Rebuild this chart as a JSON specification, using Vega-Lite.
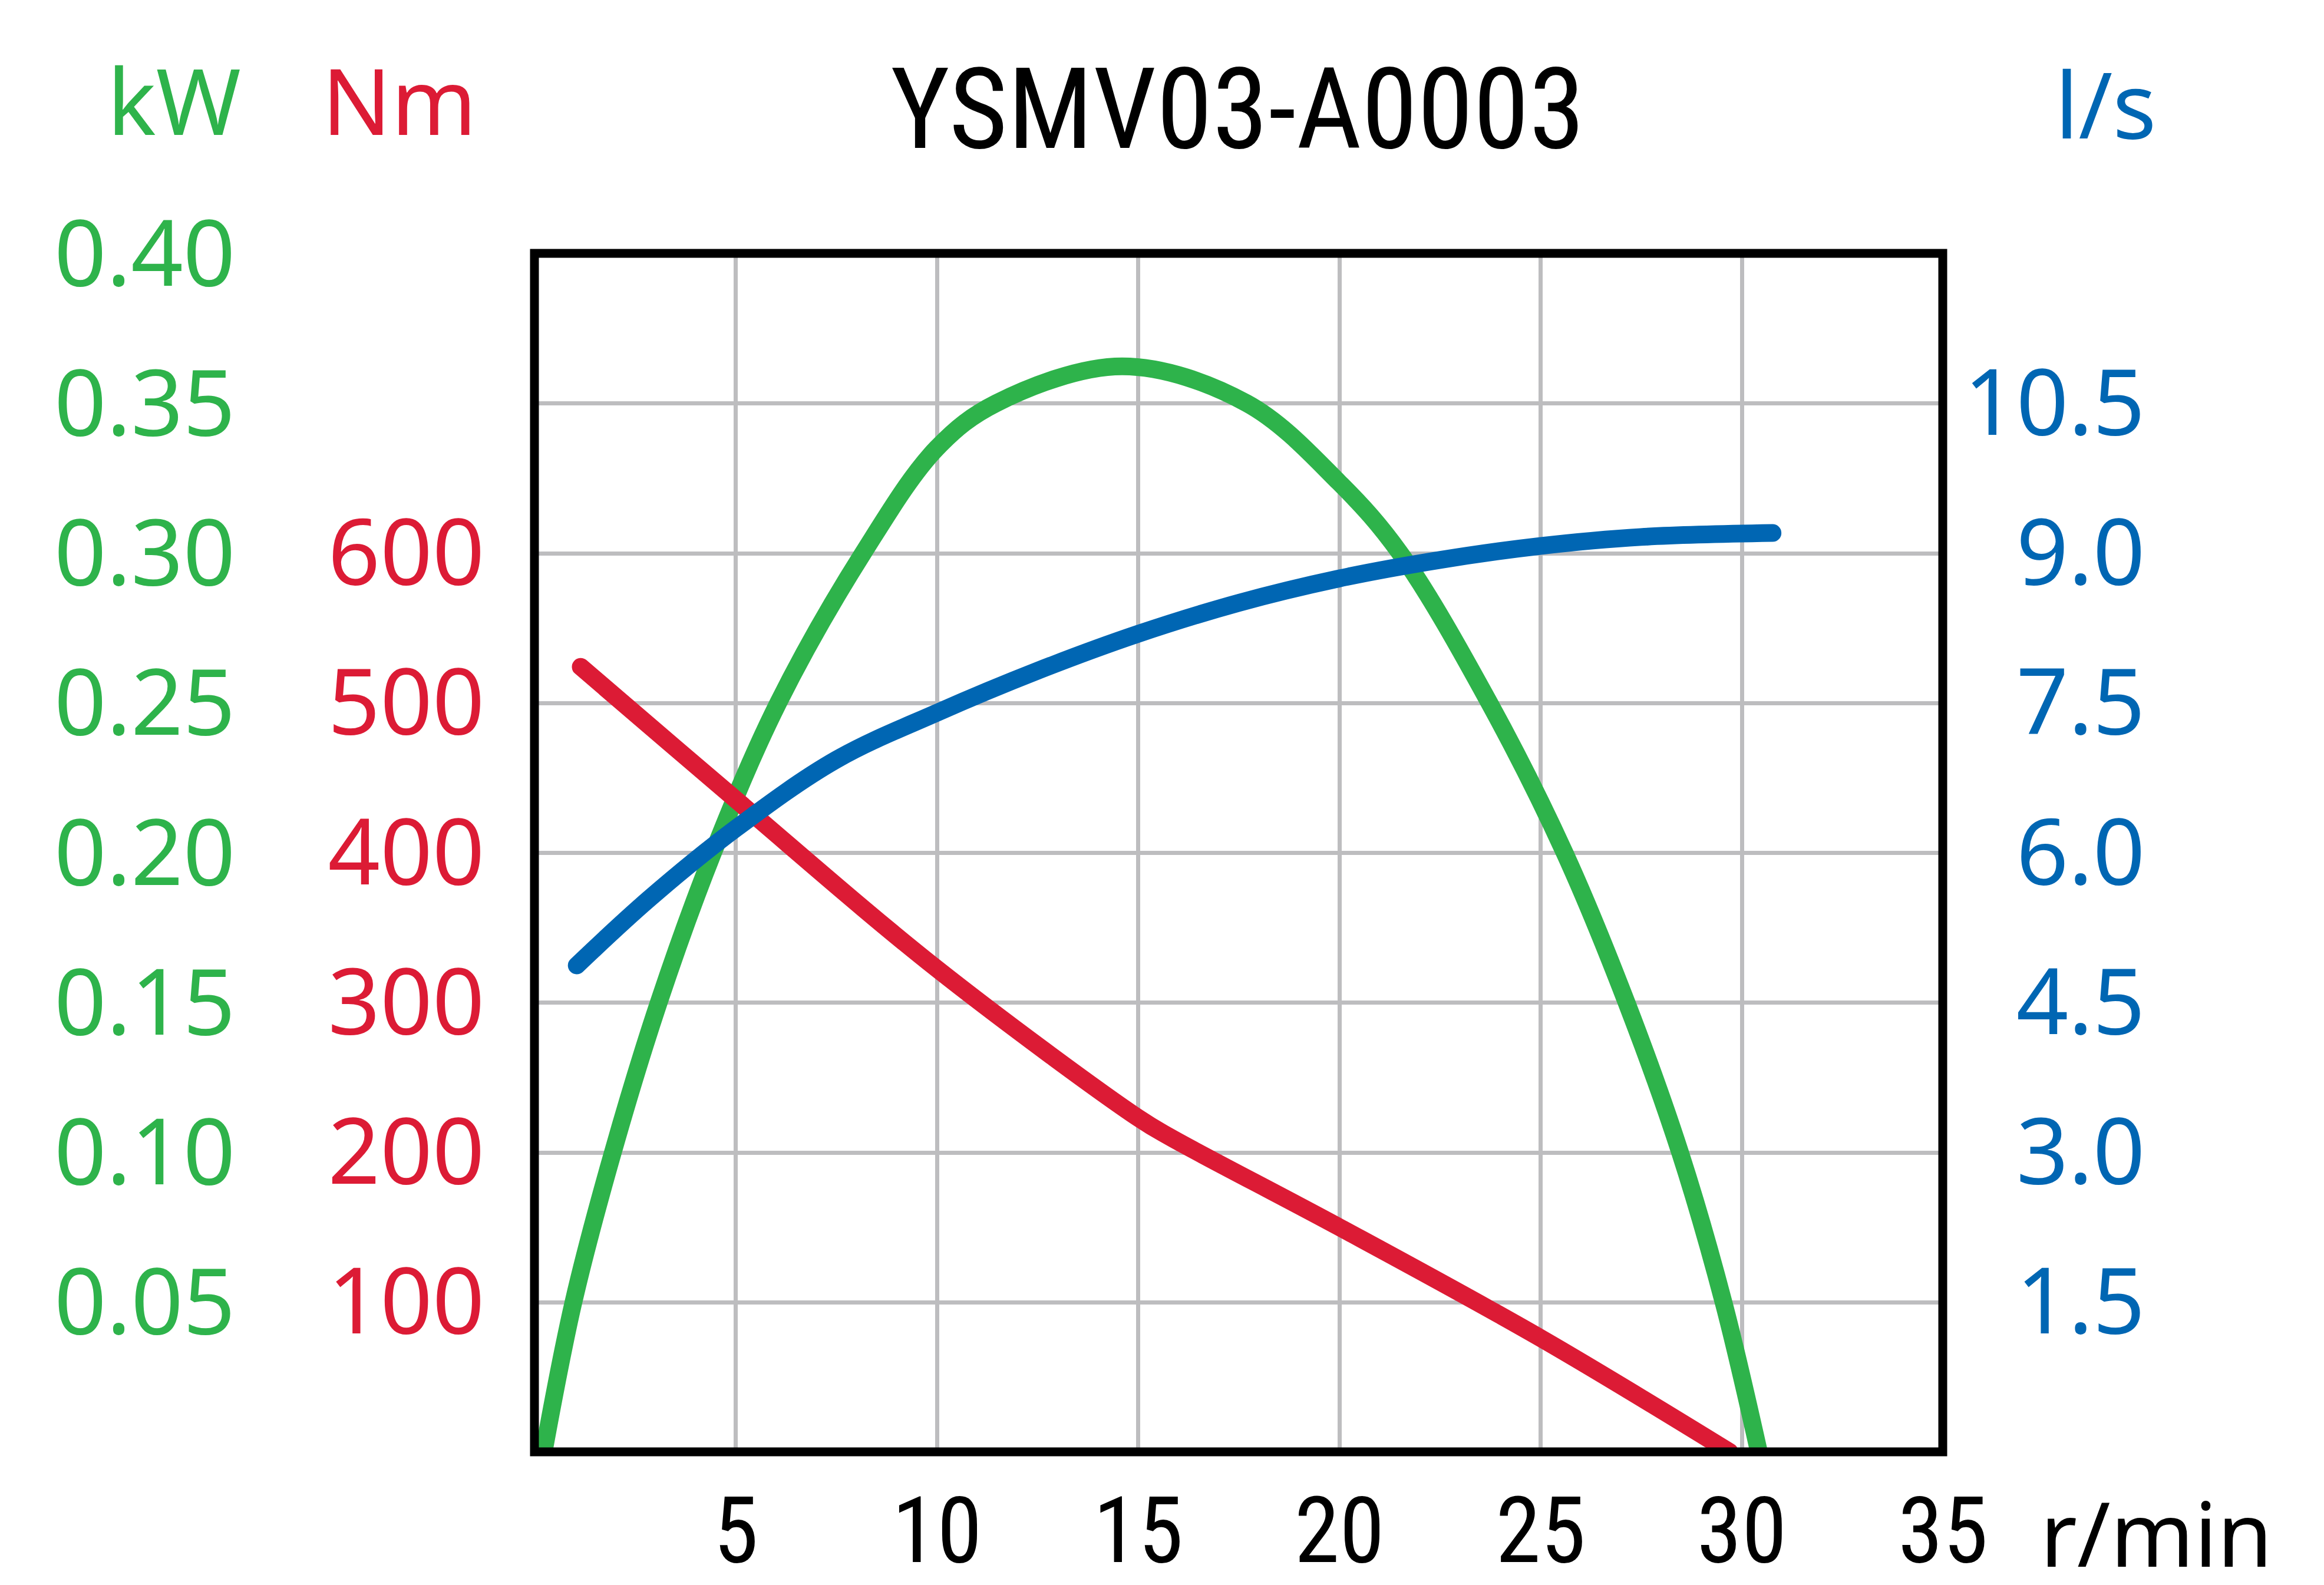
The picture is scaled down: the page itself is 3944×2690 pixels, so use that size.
{
  "$schema": "https://vega.github.io/schema/vega-lite/v6.json",
  "background": "white",
  "autosize": "none",
  "width": 2390,
  "height": 2034,
  "padding": {"left": 907, "top": 430, "right": 647, "bottom": 226},
  "config": {"view": {"stroke": null}, "font": "Noto Sans"},
  "datasets": {
    "power": [
      {"rpm": 0.23, "kW": 0},
      {"rpm": 0.97, "kW": 0.05},
      {"rpm": 1.95, "kW": 0.10},
      {"rpm": 3.09, "kW": 0.15},
      {"rpm": 4.44, "kW": 0.20},
      {"rpm": 6.06, "kW": 0.25},
      {"rpm": 8.17, "kW": 0.30},
      {"rpm": 10.0, "kW": 0.335},
      {"rpm": 11.48, "kW": 0.35},
      {"rpm": 14.61, "kW": 0.3623},
      {"rpm": 17.7, "kW": 0.35},
      {"rpm": 20.0, "kW": 0.3235},
      {"rpm": 21.51, "kW": 0.30},
      {"rpm": 23.73, "kW": 0.25},
      {"rpm": 25.6, "kW": 0.20},
      {"rpm": 27.14, "kW": 0.15},
      {"rpm": 28.47, "kW": 0.10},
      {"rpm": 29.55, "kW": 0.05},
      {"rpm": 30.43, "kW": 0}
    ],
    "torque": [
      {"rpm": 1.15, "Nm": 524},
      {"rpm": 5.0, "Nm": 435.5},
      {"rpm": 10.0, "Nm": 322.5},
      {"rpm": 15.0, "Nm": 223},
      {"rpm": 15.8, "Nm": 210},
      {"rpm": 20.0, "Nm": 150},
      {"rpm": 25.0, "Nm": 76},
      {"rpm": 29.7, "Nm": 0}
    ],
    "flow": [
      {"rpm": 1.05, "ls": 4.87},
      {"rpm": 2.83, "ls": 5.53},
      {"rpm": 5.0, "ls": 6.24},
      {"rpm": 7.5, "ls": 6.93},
      {"rpm": 10.0, "ls": 7.40},
      {"rpm": 12.5, "ls": 7.82},
      {"rpm": 15.0, "ls": 8.19},
      {"rpm": 17.5, "ls": 8.50},
      {"rpm": 20.0, "ls": 8.745},
      {"rpm": 22.5, "ls": 8.93},
      {"rpm": 25.0, "ls": 9.07},
      {"rpm": 27.5, "ls": 9.16},
      {"rpm": 30.77, "ls": 9.20}
    ]
  },
  "layer": [
    {
      "data": {"name": "power"},
      "mark": {"type": "line", "color": "#2eb34b", "strokeWidth": 30, "strokeCap": "round", "interpolate": "catmull-rom", "clip": true},
      "encoding": {
        "x": {
          "field": "rpm",
          "type": "quantitative",
          "scale": {"domain": [0, 35], "nice": false},
          "axis": {
            "values": [5, 10, 15, 20, 25, 30, 35],
            "format": "d",
            "grid": true,
            "gridColor": "#bdbdbf",
            "gridWidth": 7,
            "domain": false,
            "ticks": false,
            "tickSize": 0,
            "labelPadding": 186,
            "labelBaseline": "alphabetic",
            "labelFont": "Roboto Condensed, Liberation Sans Narrow, DejaVu Sans Condensed, sans-serif",
            "labelFontSize": 155,
            "labelColor": "black",
            "labelFlush": false,
            "labelOverlap": false,
            "labelLimit": 2000,
            "title": "r/min",
            "titleX": 2752,
            "titleY": 194,
            "titleAlign": "center",
            "titleBaseline": "alphabetic",
            "titleFont": "Noto Sans",
            "titleFontSize": 152,
            "titleFontWeight": "normal",
            "titleColor": "black",
            "titleLimit": 2000
          }
        },
        "y": {
          "field": "kW",
          "type": "quantitative",
          "scale": {"domain": [0, 0.4], "nice": false},
          "axis": {
            "orient": "left",
            "values": [0.05, 0.1, 0.15, 0.2, 0.25, 0.3, 0.35, 0.4],
            "format": ".2f",
            "grid": true,
            "gridColor": "#bdbdbf",
            "gridWidth": 7,
            "domain": false,
            "ticks": false,
            "tickSize": 0,
            "labelPadding": 508,
            "labelOffset": 7,
            "labelFont": "Noto Sans",
            "labelFontSize": 155,
            "labelColor": "#2eb34b",
            "labelOverlap": false,
            "labelFlush": false,
            "labelLimit": 2000,
            "title": "kW",
            "titleAngle": 0,
            "titleX": -612,
            "titleY": -202,
            "titleAlign": "center",
            "titleBaseline": "alphabetic",
            "titleFont": "Noto Sans",
            "titleFontSize": 155,
            "titleFontWeight": "normal",
            "titleColor": "#2eb34b"
          }
        }
      }
    },
    {
      "data": {"name": "torque"},
      "mark": {"type": "line", "color": "#dc1b35", "strokeWidth": 30, "strokeCap": "round", "interpolate": "catmull-rom", "clip": true},
      "encoding": {
        "x": {"field": "rpm", "type": "quantitative"},
        "y": {
          "field": "Nm",
          "type": "quantitative",
          "scale": {"domain": [0, 800], "nice": false},
          "axis": {
            "orient": "left",
            "values": [100, 200, 300, 400, 500, 600],
            "format": "d",
            "grid": false,
            "domain": false,
            "ticks": false,
            "tickSize": 0,
            "labelPadding": 85,
            "labelOffset": 6,
            "labelFont": "Noto Sans",
            "labelFontSize": 155,
            "labelColor": "#dc1b35",
            "labelOverlap": false,
            "labelFlush": false,
            "labelLimit": 2000,
            "title": "Nm",
            "titleAngle": 0,
            "titleX": -230,
            "titleY": -202,
            "titleAlign": "center",
            "titleBaseline": "alphabetic",
            "titleFont": "Noto Sans",
            "titleFontSize": 155,
            "titleFontWeight": "normal",
            "titleColor": "#dc1b35"
          }
        }
      }
    },
    {
      "data": {"name": "flow"},
      "mark": {"type": "line", "color": "#0066b3", "strokeWidth": 30, "strokeCap": "round", "interpolate": "catmull-rom", "clip": true},
      "encoding": {
        "x": {"field": "rpm", "type": "quantitative"},
        "y": {
          "field": "ls",
          "type": "quantitative",
          "scale": {"domain": [0, 12], "nice": false},
          "axis": {
            "orient": "right",
            "values": [1.5, 3, 4.5, 6, 7.5, 9, 10.5],
            "format": ".1f",
            "grid": false,
            "domain": false,
            "ticks": false,
            "tickSize": 0,
            "labelAlign": "right",
            "labelPadding": 343,
            "labelOffset": 6,
            "labelFont": "Noto Sans",
            "labelFontSize": 155,
            "labelColor": "#0066b3",
            "labelOverlap": false,
            "labelFlush": false,
            "labelLimit": 2000,
            "title": "l/s",
            "titleAngle": 0,
            "titleX": 276,
            "titleY": -196,
            "titleAlign": "center",
            "titleBaseline": "alphabetic",
            "titleFont": "Noto Sans",
            "titleFontSize": 155,
            "titleFontWeight": "normal",
            "titleColor": "#0066b3"
          }
        }
      }
    },
    {
      "data": {"values": [{}]},
      "mark": {"type": "rect", "filled": false, "stroke": "black", "strokeWidth": 15},
      "encoding": {
        "x": {"datum": 0, "type": "quantitative"},
        "x2": {"datum": 35},
        "y": {
          "datum": 0,
          "type": "quantitative",
          "scale": {"domain": [0, 1], "nice": false},
          "axis": {
            "orient": "left",
            "labels": false,
            "grid": false,
            "domain": false,
            "ticks": false,
            "title": "YSMV03-A0003",
            "titleAngle": 0,
            "titleX": 1193,
            "titleY": -180,
            "titleAlign": "center",
            "titleBaseline": "alphabetic",
            "titleFont": "Roboto Condensed, Liberation Sans Narrow, DejaVu Sans Condensed, sans-serif",
            "titleFontSize": 192,
            "titleFontWeight": "normal",
            "titleColor": "black",
            "titleLimit": 4000
          }
        },
        "y2": {"datum": 1}
      }
    }
  ],
  "resolve": {"scale": {"y": "independent"}}
}
